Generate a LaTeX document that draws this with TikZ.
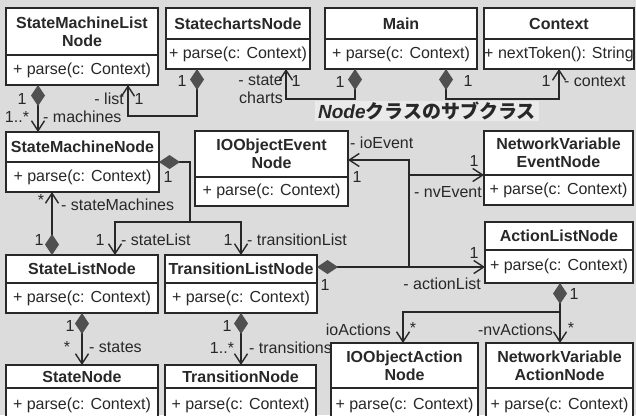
\documentclass[tikz,border=0pt]{standalone}
\usepackage{fontspec}
\setmainfont{Liberation Sans}
\newfontfamily\jpfont{Noto Sans CJK JP}
\usetikzlibrary{arrows.meta}
\definecolor{bgc}{RGB}{220,220,220}
\definecolor{ttl}{RGB}{234,234,234}
\definecolor{ink}{RGB}{40,40,40}
\definecolor{dia}{RGB}{80,80,80}
\tikzset{
  hdr/.style={draw=ink, fill=white, line width=1.4pt, inner sep=0pt, outer sep=0pt,
    font=\fontsize{16}{18}\selectfont\bfseries, align=center, text=ink},
  mth/.style={draw=ink, fill=white, line width=1.4pt, inner sep=0pt, outer sep=0pt,
    font=\fontsize{16}{18}\selectfont, text=ink},
  lbl/.style={inner sep=0pt, font=\fontsize{16}{18}\selectfont, text=ink, align=right},
  assoc/.style={draw=ink, line width=1.4pt, -{Straight Barb[length=10pt,width=13pt]}},
  comp/.style={draw=ink, line width=1.4pt,
    {Diamond[length=21pt,width=14pt,color=dia,fill=dia]}-{Straight Barb[length=10pt,width=13pt]}},
  titlebox/.style={fill=ttl, inner xsep=3pt, inner ysep=1pt, text=ink,
    font=\fontsize{19}{21}\selectfont\bfseries}
}
% #1 name, #2 x1, #3 y1, #4 x2, #5 ydiv, #6 y2, #7 header, #8 method
\newcommand\umlbox[8]{%
  \node[hdr, minimum width={(#4-#2)*1pt}, minimum height={(#5-#3)*1pt}, anchor=north west] (#1-h) at (#2,#3) {#7};
  \node[mth, minimum width={(#4-#2)*1pt}, minimum height={(#6-#5)*1pt}, anchor=north west] (#1) at (#2,#5) {#8};
}
\begin{document}
\begin{tikzpicture}[x=1pt,y=-1pt]
\useasboundingbox (0,0) rectangle (636,415);
\clip (0,0) rectangle (636,415);
\fill[bgc] (0,0) rectangle (636,415);

% classes
\umlbox{sml}{6}{8}{158}{55}{85}{StateMachineList\\Node}{+ parse(c: Context)}
\umlbox{sc}{166}{8}{310}{39}{69}{StatechartsNode}{+ parse(c: Context)}
\umlbox{main}{325}{8}{477}{39}{69}{Main}{+ parse(c: Context)}
\umlbox{ctx}{484}{8}{634}{39}{69}{Context}{+ nextToken(): String}
\umlbox{smn}{6}{132}{159}{162}{192}{StateMachineNode}{+ parse(c: Context)}
\umlbox{ioe}{195}{131}{348}{177}{206}{IOObjectEvent\\Node}{+ parse(c: Context)}
\umlbox{nve}{484}{131}{633}{175}{205}{NetworkVariable\\EventNode}{+ parse(c: Context)}
\umlbox{aln}{485}{222}{633}{250}{283}{ActionListNode}{+ parse(c: Context)}
\umlbox{sln}{6}{255}{158}{283}{313}{StateListNode}{+ parse(c: Context)}
\umlbox{tln}{165}{255}{317}{283}{313}{TransitionListNode}{+ parse(c: Context)}
\umlbox{sn}{6}{365}{158}{388}{423}{StateNode}{+ parse(c: Context)}
\umlbox{tn}{165}{365}{316}{388}{423}{TransitionNode}{+ parse(c: Context)}
\umlbox{ioa}{331}{343}{478}{388}{423}{IOObjectAction\\Node}{+ parse(c: Context)}
\umlbox{nva}{486}{343}{633}{388}{423}{NetworkVariable\\ActionNode}{+ parse(c: Context)}

% connectors
\draw[comp] ([xshift=32pt]sml.south west) -- ([xshift=32pt]smn-h.north west);
\draw[comp] ([xshift=31pt]sc.south west) -- ++(0,47) -| ([xshift=122pt]sml.south west);
\draw[comp] ([xshift=30pt]main.south west) -- ++(0,30) -| ([xshift=120pt]sc.south west);
\draw[comp] ([xshift=121pt]main.south west) -- ++(0,30) -| ([xshift=75pt]ctx.south west);
\draw[comp] (smn-h.south east) -| ++(31,60) coordinate (smj) -| ([xshift=76pt]tln-h.north west);
\draw[assoc] (smj) -| ([xshift=109pt]sln-h.north west);
\draw[comp] ([xshift=46pt]sln-h.north west) -- ([xshift=46pt]smn.south west);
\draw[comp] (tln-h.east) ++(0,-2) coordinate (tle) (tle) -- (tle -| aln.west);
\path (tle) ++(92,0) coordinate (tlj);
\draw[assoc] (tlj) |- ([yshift=17pt]ioe-h.south east);
\draw[assoc] (tlj |- nve-h.south west) -- (nve-h.south west);
\draw[comp] ([xshift=75pt]aln.south west) -- ([xshift=74pt]nva-h.north west);
\path ([xshift=75pt]aln.south west) ++(0,29) coordinate (alj);
\draw[assoc] (alj) -| ([xshift=72pt]ioa-h.north west);
\draw[comp] ([xshift=76pt]sln.south west) -- ([xshift=76pt]sn-h.north west);
\draw[comp] ([xshift=76pt]tln.south west) -- ([xshift=76pt]tn-h.north west);

% labels
\node[lbl] (l1) at (182,81) {1};
\node[lbl, anchor=east] (l2) at (124,99) {- list};
\node[lbl] (l3) at (139,99) {1};
\node[lbl] (l4) at (22,99) {1};
\node[lbl] (l5) at (17,117) {1..*};
\node[lbl, anchor=west] (l6) at (43,117) {- machines};
\node[lbl, anchor=east] (l7) at (283,89) {- state\\charts};
\node[lbl] (l8) at (296,81) {1};
\node[lbl] (l9) at (340,82) {1};
\node[lbl] (l10) at (468,81) {1};
\node[lbl] (l11) at (546,81) {1};
\node[lbl, anchor=west] (l12) at (564,81) {- context};
\node[lbl] (l13) at (168,177) {1};
\node[lbl] (l14) at (41,200) {*};
\node[lbl, anchor=west] (l15) at (61,205) {- stateMachines};
\node[lbl] (l16) at (39,240) {1};
\node[lbl] (l17) at (100,240) {1};
\node[lbl, anchor=west] (l18) at (121,240) {- stateList};
\node[lbl] (l19) at (228,240) {1};
\node[lbl, anchor=west] (l20) at (247,240) {- transitionList};
\node[lbl, anchor=west] (l21) at (350,143) {- ioEvent};
\node[lbl] (l22) at (357,177) {1};
\node[lbl] (l23) at (474,161) {1};
\node[lbl, anchor=east] (l24) at (482,192) {- nvEvent};
\node[lbl] (l25) at (474,253) {1};
\node[lbl, anchor=east] (l26) at (481,284) {- actionList};
\node[lbl] (l27) at (325,285) {1};
\node[lbl] (l28) at (574,294) {1};
\node[lbl, anchor=east] (l29) at (391,330) {ioActions};
\node[lbl] (l30) at (413,328) {*};
\node[lbl, anchor=east] (l31) at (553,330) {-nvActions};
\node[lbl] (l32) at (571,328) {*};
\node[lbl] (l33) at (70,326) {1};
\node[lbl] (l34) at (67,347) {*};
\node[lbl, anchor=west] (l35) at (89,347) {- states};
\node[lbl] (l36) at (227,326) {1};
\node[lbl] (l37) at (222,348) {1..*};
\node[lbl, anchor=west] (l38) at (249,348) {- transitions};

% title
\node[titlebox] (title) at (427,111) {{\itshape Node}{\jpfont\bfseries クラスのサブクラス}};
\end{tikzpicture}
\end{document}
